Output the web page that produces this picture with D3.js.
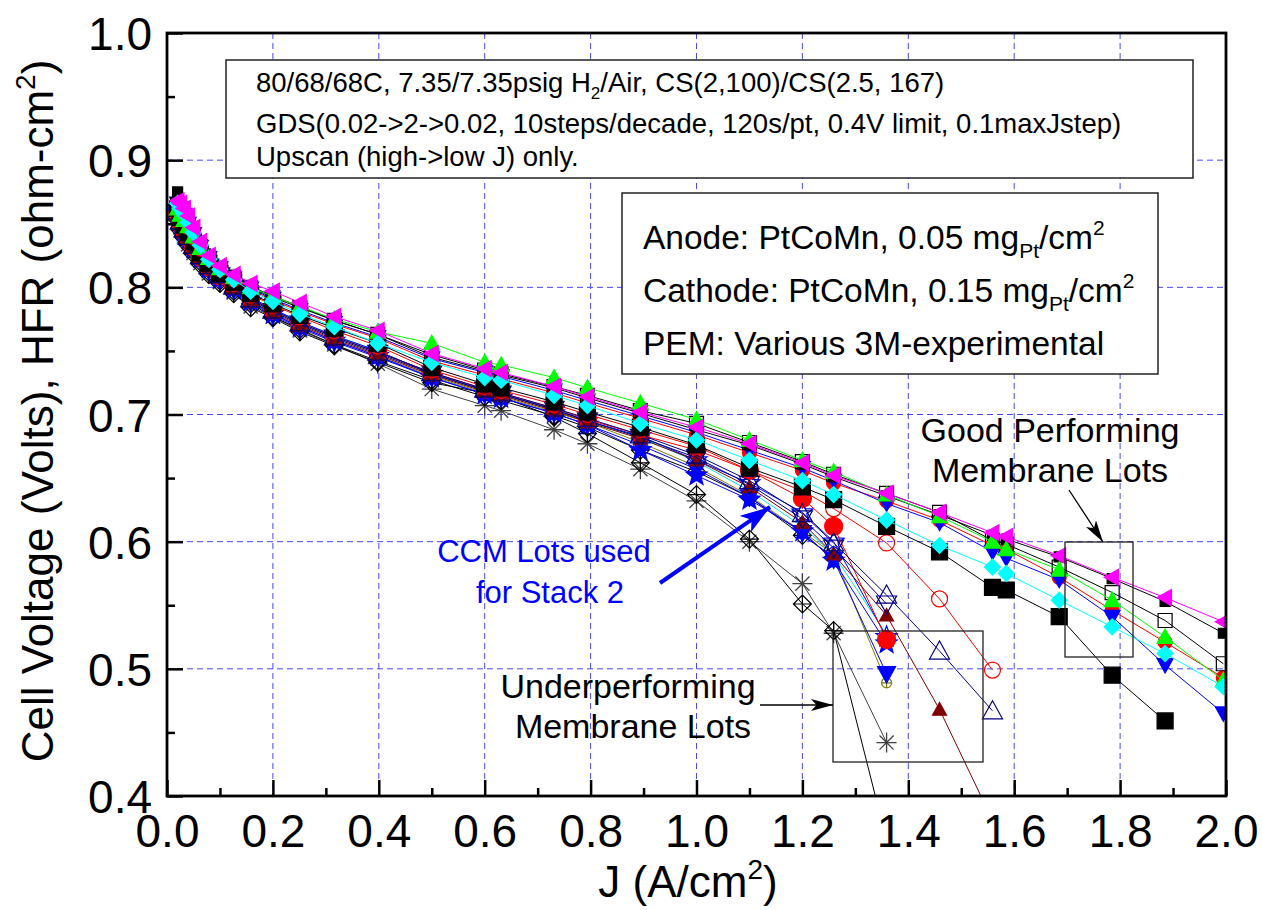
<!DOCTYPE html>
<html>
<head>
<meta charset="utf-8">
<script src="https://cdn.jsdelivr.net/npm/d3@7"></script>
<style>
  body { margin: 0; background: #fff; }
  svg { display: block; font-family: "Liberation Sans", Arial, sans-serif; }
</style>
</head>
<body>
<script>
// current density steps of the upscan (A/cm2)
const currentDensity = [0.02, 0.025, 0.032, 0.04, 0.05, 0.063, 0.079, 0.1, 0.126, 0.158, 0.2, 0.251, 0.316, 0.398,
    0.5, 0.6, 0.631, 0.731, 0.794, 0.894, 1.0, 1.1, 1.2, 1.259, 1.359, 1.459, 1.559, 1.585, 1.685, 1.785, 1.885, 1.995];

// cell voltage per lot (V), null = no point
const greenTri = [0.862, 0.857, 0.853, 0.848, 0.840, 0.831, 0.823, 0.815, 0.808, 0.800, 0.793, 0.785, 0.775, 0.765,
    0.756, 0.741, 0.739, 0.729, 0.721, 0.709, 0.696, 0.680, 0.664, 0.655, 0.637, 0.620, 0.600, 0.594, 0.578, 0.554, 0.525, 0.491];
const magentaTri = [0.868, 0.866, 0.862, 0.856, 0.847, 0.836, 0.825, 0.817, 0.810, 0.803, 0.797, 0.788, 0.777, 0.766,
    0.748, 0.736, 0.733, 0.722, 0.714, 0.702, 0.690, 0.677, 0.662, 0.652, 0.638, 0.623, 0.607, 0.604, 0.589, 0.572, 0.556, 0.537];
const openSquare = [0.865, 0.860, 0.855, 0.849, 0.841, 0.832, 0.823, 0.815, 0.808, 0.800, 0.792, 0.784, 0.774, 0.763,
    0.747, 0.735, 0.732, 0.722, 0.715, 0.703, 0.693, 0.678, 0.663, 0.653, 0.638, 0.623, 0.601, 0.598, 0.580, 0.560, 0.538, 0.504];
const smallSquare = [0.875, 0.867, 0.860, 0.852, 0.843, 0.833, 0.824, 0.816, 0.809, 0.801, 0.793, 0.785, 0.774, 0.763,
    0.745, 0.734, 0.731, 0.721, 0.713, 0.701, 0.688, 0.676, 0.661, 0.651, 0.636, 0.621, 0.605, 0.602, 0.588, 0.571, 0.553, 0.528];
const blueDown = [0.866, 0.862, 0.857, 0.850, 0.842, 0.832, 0.823, 0.815, 0.807, 0.799, 0.791, 0.782, 0.772, 0.761,
    0.744, 0.733, 0.730, 0.719, 0.711, 0.699, 0.686, 0.672, 0.658, 0.648, 0.630, 0.615, 0.592, 0.587, 0.570, 0.541, 0.503, 0.465];
const redDot = [0.864, 0.859, 0.854, 0.847, 0.839, 0.830, 0.822, 0.814, 0.806, 0.798, 0.790, 0.781, 0.771, 0.760,
    0.742, 0.731, 0.728, 0.717, 0.709, 0.697, 0.684, 0.670, 0.656, 0.646, 0.632, 0.617, 0.597, 0.594, 0.572, 0.546, 0.521, 0.493];
const cyanDiamond = [0.866, 0.862, 0.858, 0.851, 0.843, 0.833, 0.822, 0.814, 0.806, 0.797, 0.789, 0.779, 0.769, 0.756,
    0.741, 0.729, 0.727, 0.715, 0.707, 0.693, 0.680, 0.664, 0.648, 0.637, 0.617, 0.597, 0.580, 0.575, 0.554, 0.533, 0.512, 0.486];
const bigSquare = [0.862, 0.855, 0.849, 0.843, 0.836, 0.827, 0.819, 0.811, 0.804, 0.795, 0.787, 0.778, 0.768, 0.756,
    0.737, 0.724, 0.721, 0.710, 0.702, 0.690, 0.676, 0.658, 0.643, 0.633, 0.612, 0.592, 0.564, 0.562, 0.541, 0.495, 0.459, null];
const redRing = [0.862, 0.856, 0.850, 0.844, 0.836, 0.827, 0.819, 0.811, 0.803, 0.794, 0.786, 0.777, 0.766, 0.754,
    0.735, 0.722, 0.719, 0.708, 0.700, 0.688, 0.675, 0.656, 0.640, 0.626, 0.599, 0.555, 0.499, null, null, null, null, null];
const navyUp = [0.860, 0.852, 0.846, 0.840, 0.833, 0.825, 0.817, 0.810, 0.801, 0.791, 0.782, 0.772, 0.761, 0.749,
    0.733, 0.720, 0.717, 0.705, 0.697, 0.684, 0.668, 0.648, 0.622, 0.599, 0.558, 0.514, 0.467, null, null, null, null, null];
const navyDown = [0.859, 0.851, 0.845, 0.839, 0.832, 0.824, 0.816, 0.809, 0.800, 0.790, 0.781, 0.771, 0.760, 0.748,
    0.732, 0.719, 0.716, 0.704, 0.695, 0.682, 0.666, 0.645, 0.618, 0.595, 0.551, null, null, null, null, null, null, null];
const maroonTri = [0.857, 0.850, 0.844, 0.838, 0.831, 0.823, 0.815, 0.808, 0.799, 0.789, 0.780, 0.770, 0.759, 0.747,
    0.731, 0.718, 0.715, 0.703, 0.694, 0.681, 0.664, 0.643, 0.615, 0.590, 0.542, 0.468, 0.381, null, null, null, null, null];
const bigRed = [0.858, 0.851, 0.845, 0.839, 0.832, 0.824, 0.816, 0.809, 0.801, 0.791, 0.782, 0.772, 0.761, 0.749,
    0.733, 0.720, 0.717, 0.705, 0.696, 0.684, 0.672, 0.656, 0.634, 0.612, 0.523, null, null, null, null, null, null, null];
const openStar = [0.860, 0.853, 0.847, 0.841, 0.834, 0.826, 0.818, 0.810, 0.802, 0.792, 0.783, 0.773, 0.762, 0.750,
    0.732, 0.719, 0.716, 0.704, 0.695, 0.683, 0.664, 0.646, 0.623, 0.600, 0.525, null, null, null, null, null, null, null];
const oliveCross = [0.857, 0.849, 0.843, 0.837, 0.830, 0.822, 0.814, 0.807, 0.799, 0.789, 0.779, 0.769, 0.758, 0.746,
    0.730, 0.717, 0.714, 0.702, 0.694, 0.678, 0.659, 0.636, 0.608, 0.590, 0.489, null, null, null, null, null, null, null];
const blueDown2 = [0.856, 0.848, 0.842, 0.836, 0.829, 0.821, 0.813, 0.806, 0.798, 0.788, 0.778, 0.768, 0.757, 0.745,
    0.729, 0.716, 0.713, 0.701, 0.692, 0.676, 0.657, 0.635, 0.607, 0.586, 0.496, null, null, null, null, null, null, null];
const blueStar = [0.858, 0.850, 0.844, 0.838, 0.831, 0.823, 0.815, 0.807, 0.799, 0.789, 0.779, 0.769, 0.758, 0.746,
    0.729, 0.716, 0.713, 0.701, 0.692, 0.672, 0.652, 0.633, 0.608, 0.585, 0.520, null, null, null, null, null, null, null];
const cyanPlain = [0.859, 0.852, 0.846, 0.840, 0.833, 0.825, 0.817, 0.810, 0.802, 0.792, 0.783, 0.773, 0.762, 0.750,
    0.732, 0.719, 0.716, 0.704, 0.695, 0.682, 0.663, 0.640, 0.612, 0.590, 0.527, null, null, null, null, null, null, null];
const diamondA = [0.855, 0.847, 0.841, 0.835, 0.828, 0.820, 0.812, 0.805, 0.797, 0.787, 0.777, 0.767, 0.755, 0.742,
    0.727, 0.714, 0.711, 0.699, 0.690, 0.672, 0.655, 0.635, 0.605, 0.588, null, null, null, null, null, null, null, null];
const diamondB = [0.853, 0.845, 0.839, 0.833, 0.826, 0.818, 0.810, 0.803, 0.795, 0.784, 0.776, 0.765, 0.754, 0.741,
    0.725, 0.717, 0.714, 0.698, 0.685, 0.662, 0.637, 0.602, 0.551, 0.530, 0.365, null, null, null, null, null, null, null];
const asteriskLot = [0.855, 0.847, 0.840, 0.834, 0.827, 0.819, 0.811, 0.804, 0.796, 0.785, 0.777, 0.766, 0.755, 0.740,
    0.720, 0.707, 0.703, 0.688, 0.677, 0.657, 0.632, 0.600, 0.567, 0.528, 0.442, null, null, null, null, null, null, null];

const xTickValues = [0, 0.2, 0.4, 0.6, 0.8, 1.0, 1.2, 1.4, 1.6, 1.8, 2.0];
const yTickValues = [0.4, 0.5, 0.6, 0.7, 0.8, 0.9, 1.0];

// drawing order: underperforming lots first, best lots on top
const series = [
    { v: asteriskLot, color: '#404040', marker: 'asterisk', r: 10, fill: false },
    { v: diamondB, color: '#000000', marker: 'diamondPlus', r: 9, fill: false },
    { v: diamondA, color: '#000000', marker: 'diamondPlus', r: 9, fill: false },
    { v: cyanPlain, color: '#00e5ee', marker: null, r: 0, fill: false },
    { v: oliveCross, color: '#808000', marker: 'circlePlus', r: 5, fill: false },
    { v: blueDown2, color: '#0000ff', marker: 'triDown', r: 9, fill: true },
    { v: blueStar, color: '#0000ff', marker: 'star', r: 11, fill: true },
    { v: openStar, color: '#0000ff', marker: 'star', r: 11, fill: false },
    { v: bigRed, color: '#ff0000', marker: 'circle', r: 9, fill: true },
    { v: maroonTri, color: '#800000', marker: 'triUp', r: 7, fill: true },
    { v: navyDown, color: '#000080', marker: 'triDown', r: 10, fill: false },
    { v: navyUp, color: '#000080', marker: 'triUp', r: 10, fill: false },
    { v: redRing, color: '#ff0000', marker: 'circle', r: 8, fill: false },
    { v: bigSquare, color: '#000000', marker: 'square', r: 8, fill: true },
    { v: redDot, color: '#ff0000', marker: 'circle', r: 7, fill: true },
    { v: blueDown, color: '#0000ff', marker: 'triDown', r: 8, fill: true },
    { v: openSquare, color: '#000000', marker: 'square', r: 7, fill: false },
    { v: smallSquare, color: '#000000', marker: 'square', r: 5, fill: true },
    { v: greenTri, color: '#00ff00', marker: 'triUp', r: 8, fill: true },
    { v: cyanDiamond, color: '#00ffff', marker: 'diamond', r: 8, fill: true },
    { v: magentaTri, color: '#ff00ff', marker: 'triLeft', r: 8, fill: true }
];

const plotLeft = 167, plotRight = 1226, plotTop = 33, plotBottom = 796;

const x = d3.scaleLinear().domain([0, 2]).range([plotLeft, plotRight]);
const y = d3.scaleLinear().domain([0.4, 1.0]).range([plotBottom, plotTop]);

const svg = d3.select('body').append('svg')
    .attr('width', 1262)
    .attr('height', 910);

const defs = svg.append('defs');
defs.append('clipPath').attr('id', 'plot-clip')
    .append('rect')
    .attr('x', plotLeft).attr('y', plotTop)
    .attr('width', plotRight - plotLeft).attr('height', plotBottom - plotTop);

function addArrowHead(id, color, w, h) {
    defs.append('marker')
        .attr('id', id)
        .attr('viewBox', `0 0 ${w} ${h}`)
        .attr('refX', w).attr('refY', h / 2)
        .attr('markerWidth', w).attr('markerHeight', h)
        .attr('markerUnits', 'userSpaceOnUse')
        .attr('orient', 'auto')
        .append('path')
        .attr('d', `M0,0 L${w},${h / 2} L0,${h} L${w * 0.25},${h / 2} Z`)
        .attr('fill', color);
}
addArrowHead('arrow-black', '#000', 22, 12);
addArrowHead('arrow-blue', '#0000ff', 30, 20);

// grid
const grid = svg.append('g');
grid.selectAll('.vgrid')
    .data(xTickValues.filter(d => d > 0 && d < 2))
    .enter().append('line')
    .attr('x1', d => x(d)).attr('x2', d => x(d))
    .attr('y1', plotTop).attr('y2', plotBottom)
    .attr('stroke', '#4848ff').attr('stroke-width', 1).attr('stroke-dasharray', '6,4');
grid.selectAll('.hgrid')
    .data(yTickValues.filter(d => d > 0.4 && d < 1.0))
    .enter().append('line')
    .attr('x1', plotLeft).attr('x2', plotRight)
    .attr('y1', d => y(d)).attr('y2', d => y(d))
    .attr('stroke', '#4848ff').attr('stroke-width', 1).attr('stroke-dasharray', '6,4');

// info boxes (white, cover the grid)
function infoBox(x0, y0, x1, y1) {
    svg.append('rect')
        .attr('x', x0).attr('y', y0)
        .attr('width', x1 - x0).attr('height', y1 - y0)
        .attr('fill', '#fff').attr('stroke', '#222').attr('stroke-width', 1.5);
}
infoBox(226, 60, 1193, 178);
infoBox(622, 193, 1158, 374);

const box1 = svg.append('g').attr('font-size', 27.5).attr('fill', '#000');
const l1 = box1.append('text').attr('x', 256).attr('y', 92);
l1.append('tspan').text('80/68/68C, 7.35/7.35psig H');
l1.append('tspan').attr('font-size', 17).attr('dy', 7).text('2');
l1.append('tspan').attr('dy', -7).text('/Air, CS(2,100)/CS(2.5, 167)');
box1.append('text').attr('x', 256).attr('y', 133)
    .text('GDS(0.02->2->0.02, 10steps/decade, 120s/pt, 0.4V limit, 0.1maxJstep)');
box1.append('text').attr('x', 256).attr('y', 166).text('Upscan (high->low J) only.');

const box2 = svg.append('g').attr('font-size', 33.5).attr('fill', '#000');
function loadingLine(yy, label, value) {
    const t = box2.append('text').attr('x', 643).attr('y', yy);
    t.append('tspan').text(`${label}: PtCoMn, ${value} mg`);
    t.append('tspan').attr('font-size', 21).attr('dy', 9).text('Pt');
    t.append('tspan').attr('dy', -9).text('/cm');
    t.append('tspan').attr('font-size', 21).attr('dy', -14).text('2');
}
loadingLine(249, 'Anode', '0.05');
loadingLine(302, 'Cathode', '0.15');
box2.append('text').attr('x', 643).attr('y', 355).text('PEM: Various 3M-experimental');

// data
const line = d3.line().x(d => x(d[0])).y(d => y(d[1]));

function markerPath(type, r) {
    const p = d3.path();
    if (type === 'square') {
        p.rect(-r, -r, 2 * r, 2 * r);
    } else if (type === 'circle') {
        p.moveTo(r, 0);
        p.arc(0, 0, r, 0, 2 * Math.PI);
        p.closePath();
    } else if (type === 'triUp') {
        p.moveTo(0, -r); p.lineTo(r, r * 0.8); p.lineTo(-r, r * 0.8); p.closePath();
    } else if (type === 'triDown') {
        p.moveTo(0, r); p.lineTo(r, -r * 0.8); p.lineTo(-r, -r * 0.8); p.closePath();
    } else if (type === 'triLeft') {
        p.moveTo(-r, 0); p.lineTo(r * 0.8, -r); p.lineTo(r * 0.8, r); p.closePath();
    } else if (type === 'diamond') {
        p.moveTo(0, -r); p.lineTo(r, 0); p.lineTo(0, r); p.lineTo(-r, 0); p.closePath();
    } else if (type === 'diamondPlus') {
        p.moveTo(0, -r); p.lineTo(r, 0); p.lineTo(0, r); p.lineTo(-r, 0); p.closePath();
        p.moveTo(0, -r); p.lineTo(0, r); p.moveTo(-r, 0); p.lineTo(r, 0);
    } else if (type === 'circlePlus') {
        p.moveTo(r, 0);
        p.arc(0, 0, r, 0, 2 * Math.PI);
        p.closePath();
        p.moveTo(0, -r); p.lineTo(0, r); p.moveTo(-r, 0); p.lineTo(r, 0);
    } else if (type === 'star') {
        for (let k = 0; k < 10; k++) {
            const a = -Math.PI / 2 + k * Math.PI / 5;
            const rr = k % 2 === 0 ? r : r * 0.42;
            if (k === 0) p.moveTo(rr * Math.cos(a), rr * Math.sin(a));
            else p.lineTo(rr * Math.cos(a), rr * Math.sin(a));
        }
        p.closePath();
    } else if (type === 'asterisk') {
        for (let k = 0; k < 4; k++) {
            const a = k * Math.PI / 4;
            p.moveTo(-r * Math.cos(a), -r * Math.sin(a));
            p.lineTo(r * Math.cos(a), r * Math.sin(a));
        }
    }
    return p.toString();
}

const plot = svg.append('g').attr('clip-path', 'url(#plot-clip)');

series.forEach(s => {
    const pts = currentDensity.map((j, i) => [j, s.v[i]]).filter(d => d[1] !== null);
    plot.append('path')
        .attr('d', line(pts))
        .attr('fill', 'none')
        .attr('stroke', s.color)
        .attr('stroke-width', 1);
    if (!s.marker) return;
    plot.append('g').selectAll('path')
        .data(pts)
        .enter().append('path')
        .attr('transform', d => `translate(${x(d[0])},${y(d[1])})`)
        .attr('d', markerPath(s.marker, s.r))
        .attr('fill', s.fill ? s.color : (s.marker === 'asterisk' ? 'none' : '#fff'))
        .attr('fill-opacity', s.fill || s.marker === 'asterisk' ? 1 : 0)
        .attr('stroke', s.color)
        .attr('stroke-width', s.marker === 'asterisk' ? 1.3 : 1.2);
});

// annotations
const notes = svg.append('g').attr('font-size', 34).attr('text-anchor', 'middle');
notes.append('text').attr('x', 1050).attr('y', 442).text('Good Performing');
notes.append('text').attr('x', 1050).attr('y', 482).text('Membrane Lots');
notes.append('text').attr('x', 628).attr('y', 698).text('Underperforming');
notes.append('text').attr('x', 633).attr('y', 738).text('Membrane Lots');
notes.append('text').attr('x', 544).attr('y', 562).attr('font-size', 31).attr('fill', '#0000ff').text('CCM Lots used');
notes.append('text').attr('x', 550).attr('y', 603).attr('font-size', 31).attr('fill', '#0000ff').text('for Stack 2');

svg.append('rect').attr('x', 1065).attr('y', 542).attr('width', 68).attr('height', 115)
    .attr('fill', 'none').attr('stroke', '#222').attr('stroke-width', 1.3);
svg.append('rect').attr('x', 833).attr('y', 631).attr('width', 150).attr('height', 131)
    .attr('fill', 'none').attr('stroke', '#222').attr('stroke-width', 1.3);

svg.append('line').attr('x1', 1069).attr('y1', 490).attr('x2', 1103).attr('y2', 542)
    .attr('stroke', '#000').attr('stroke-width', 1.3).attr('marker-end', 'url(#arrow-black)');
svg.append('line').attr('x1', 760).attr('y1', 705).attr('x2', 833).attr('y2', 705)
    .attr('stroke', '#000').attr('stroke-width', 1.3).attr('marker-end', 'url(#arrow-black)');
svg.append('line').attr('x1', 660).attr('y1', 583).attr('x2', 770).attr('y2', 507)
    .attr('stroke', '#0000ff').attr('stroke-width', 4).attr('marker-end', 'url(#arrow-blue)');

// axes
const xAxis = svg.append('g')
    .attr('transform', `translate(0,${plotBottom})`)
    .call(d3.axisBottom(x).tickValues(xTickValues).tickSize(-16).tickPadding(18).tickFormat(d3.format('.1f')));
svg.append('g')
    .attr('transform', `translate(0,${plotBottom})`)
    .call(d3.axisBottom(x).tickValues(d3.range(0.1, 2, 0.2)).tickSize(-8).tickFormat(''))
    .call(g => g.select('.domain').remove());
const yAxis = svg.append('g')
    .attr('transform', `translate(${plotLeft},0)`)
    .call(d3.axisLeft(y).tickValues(yTickValues).tickSize(-16).tickPadding(15).tickFormat(d3.format('.1f')));
svg.append('g')
    .attr('transform', `translate(${plotLeft},0)`)
    .call(d3.axisLeft(y).tickValues(d3.range(0.45, 1.0, 0.1)).tickSize(-8).tickFormat(''))
    .call(g => g.select('.domain').remove());

svg.selectAll('.tick line').attr('stroke', '#000').attr('stroke-width', 2.5);
svg.selectAll('.domain').remove();
xAxis.selectAll('text').attr('font-size', 46).attr('font-family', '"Liberation Sans", Arial, sans-serif').attr('fill', '#000');
yAxis.selectAll('text').attr('font-size', 46).attr('font-family', '"Liberation Sans", Arial, sans-serif').attr('fill', '#000')
    .attr('dy', '0.36em');

svg.append('rect')
    .attr('x', plotLeft).attr('y', plotTop)
    .attr('width', plotRight - plotLeft).attr('height', plotBottom - plotTop)
    .attr('fill', 'none').attr('stroke', '#000').attr('stroke-width', 2.8);

// axis titles
const xt = svg.append('text').attr('x', 688).attr('y', 897).attr('text-anchor', 'middle').attr('font-size', 44);
xt.append('tspan').text('J (A/cm');
xt.append('tspan').attr('font-size', 28).attr('dy', -18).text('2');
xt.append('tspan').attr('dy', 18).text(')');

const yt = svg.append('text').attr('transform', 'translate(53,411) rotate(-90)')
    .attr('text-anchor', 'middle').attr('font-size', 44);
yt.append('tspan').text('Cell Voltage (Volts), HFR (ohm-cm');
yt.append('tspan').attr('font-size', 28).attr('dy', -18).text('2');
yt.append('tspan').attr('dy', 18).text(')');
</script>
</body>
</html>
